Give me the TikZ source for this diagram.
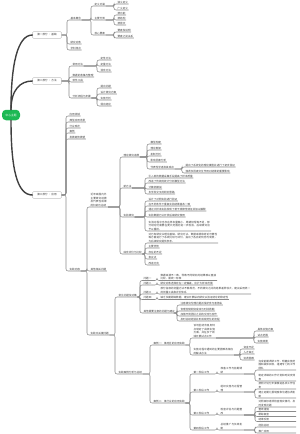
\documentclass[tikz,border=0pt]{standalone}
\usepackage{fontspec}
\newfontfamily\cjk{Noto Sans CJK SC}
\XeTeXlinebreaklocale "zh"
\XeTeXlinebreakskip=0pt plus 1pt
\definecolor{rootgreen}{HTML}{1DB954}
\definecolor{linegray}{HTML}{8C8C8C}
\definecolor{txtgray}{HTML}{3A3A3A}

\begin{document}
\begin{tikzpicture}[
  x=2pt, y=-2pt,
  rootnode/.style={fill=rootgreen, text=white, rounded corners=8pt, minimum width=36pt, minimum height=21pt,
                   font=\cjk\fontsize{5.5}{7}\selectfont, inner sep=1pt},
  topicnode/.style={draw=linegray, fill=white, rounded corners=2pt, minimum width=58pt, minimum height=13pt,
                    font=\cjk\fontsize{5.2}{6.8}\selectfont, text=txtgray, inner sep=1pt},
  leafnode/.style={anchor=south west, inner xsep=1pt, inner ysep=1pt, align=left,
                   font=\cjk\fontsize{5.2}{6.8}\selectfont, text=txtgray},
  trunk/.style={draw=black!75, line width=2.8pt, line cap=round},
  cn/.style={draw=linegray, line width=1.1pt, rounded corners=4pt,
             to path={-| ([xshift=-6pt]\tikztotarget.south west) -- (\tikztotarget.south east)}},
]
\useasboundingbox (0,0) rectangle (300,434);

% Root and main topics
\node[rootnode] (root) at (11,115) {中心主题};
\node[topicnode] (A) at (47,35) {第一部分 · 基础};
\node[topicnode] (B) at (47,81) {第二部分 · 方法};
\node[topicnode] (C) at (47,195) {第三部分 · 应用};

% Part A
\node[leafnode] (A1) at (70,20) {基本概念};
\node[leafnode] (A2) at (70,44) {研究对象};
\node[leafnode] (A3) at (70,50) {学科特点};
\node[leafnode] (A1a) at (94,6) {定义内涵};
\node[leafnode] (A1b) at (94,20) {主要分类};
\node[leafnode] (A1c) at (94,35) {核心要素};
\node[leafnode] (A1a1) at (117,4) {狭义定义};
\node[leafnode] (A1a2) at (117,10) {广义定义};
\node[leafnode] (A1b1) at (117,15) {按功能};
\node[leafnode] (A1b2) at (117,20) {按结构};
\node[leafnode] (A1b3) at (117,25) {按层次};
\node[leafnode] (A1c1) at (117,32) {要素及说明};
\node[leafnode] (A1c2) at (117,38) {要素之间关系};

% Part B
\node[leafnode] (B1) at (72,66) {常用方法};
\node[leafnode] (B2) at (72,77) {数据的收集与整理};
\node[leafnode] (B3) at (72,82) {软件工具};
\node[leafnode] (B4) at (72,98) {分析流程与步骤};
\node[leafnode] (B1a) at (100,60) {定性方法};
\node[leafnode] (B1b) at (100,66) {定量方法};
\node[leafnode] (B1c) at (100,72) {混合方法};
\node[leafnode] (B4a) at (100,88) {提出问题};
\node[leafnode] (B4b) at (100,94) {设计研究方案};
\node[leafnode] (B4c) at (100,100) {实施分析};
\node[leafnode] (B4d) at (100,106) {得出结论};

% Part C, upper list
\node[leafnode] (C1) at (69,116) {应用领域};
\node[leafnode] (C2) at (69,122) {典型应用场景};
\node[leafnode] (C3) at (69,128) {行业现状};
\node[leafnode] (C4) at (69,133) {案例};
\node[leafnode] (C5) at (69,139) {发展趋势展望};
\node[leafnode] (C6) at (69,271) {实践内容};

% Part C, practice
\node[leafnode, text width=34pt] (H) at (90,207) {近年来国内外主要研究进展及代表性成果的归纳与总结};
\node[leafnode] (I) at (90,271) {其他相关问题};
\node[leafnode] (F) at (90,335) {实践中关键问题};

\node[leafnode] (D1) at (123,157) {理论研究进展};
\node[leafnode] (D2) at (123,188) {新方法};
\node[leafnode] (D3) at (123,217) {实验研究};
\node[leafnode] (D4) at (123,254) {综合评价与比较};

\node[leafnode] (D1a) at (150,144) {模型构建};
\node[leafnode] (D1b) at (150,150) {理论框架};
\node[leafnode] (D1c) at (150,156) {机制分析};
\node[leafnode] (D1d) at (150,162) {影响因素分析};
\node[leafnode] (D1e) at (150,169) {代表性学者及其观点};
\node[leafnode] (D1e1) at (185,167) {提出了系统化的理论模型并进行了初步验证};
\node[leafnode] (D1e2) at (185,173) {强调多因素交互作用对结果的重要影响};

\node[leafnode] (D2a) at (148,178) {引入新的数据采集手段提高了样本质量};
\node[leafnode] (D2b) at (148,183) {改进了传统的统计分析模型方法};
\node[leafnode] (D2c) at (148,189) {计算机模拟};
\node[leafnode] (D2d) at (148,194) {多学科交叉的研究思路};

\node[leafnode] (D3a) at (148,201) {设计了对照实验进行验证};
\node[leafnode] (D3b) at (148,206) {在不同条件下重复实验结果基本一致};
\node[leafnode] (D3c) at (148,211) {通过大样本实验发现了若干规律性特征并加以解释};
\node[leafnode] (D3d) at (148,217) {实验数据已公开供后续研究使用};
\node[leafnode, text width=124pt] (D3e) at (148,231) {实验过程中也存在样本量偏小、周期较短等不足，部分结论仍需要在更大范围内进一步检验，后续研究应予以重视。};

\node[leafnode, text width=138pt] (D4a) at (148,243) {对已有研究从理论基础、研究方法、数据来源和结论可靠性等方面进行了系统比较与评价，指出了各自的优势与局限，为后续研究提供参考。};
\node[leafnode] (D4b) at (148,248) {主要优势};
\node[leafnode] (D4c) at (148,254) {存在的不足};
\node[leafnode] (D4d) at (148,259) {争议点};
\node[leafnode] (D4e) at (148,265) {改进方向};

% Problems
\node[leafnode] (E) at (118,297) {常见问题及对策};
\node[leafnode] (E1) at (143,280.5) {问题一};
\node[leafnode] (E2) at (143,285) {问题二};
\node[leafnode] (E3) at (143,294) {问题三};
\node[leafnode] (E4) at (143,299.5) {问题四};
\node[leafnode] (E5) at (143,313) {其他需要注意的问题与建议};
\node[leafnode, text width=112pt] (E1a) at (160,280.5) {数据来源不一致，导致不同研究的结果难以直接比较，需统一标准};
\node[leafnode] (E2a) at (160,285) {研究对象选择存在一定偏差，应扩大样本范围};
\node[leafnode, text width=180pt] (E3a) at (160,294) {部分指标的测量方法不够规范，不同研究之间的结果差异较大，建议采用统一的测量工具和评价体系};
\node[leafnode] (E4a) at (160,299.5) {缺乏长期跟踪数据，建议开展纵向研究以验证结论的稳定性};
\node[leafnode] (E5a) at (180,305) {注意研究伦理问题并保护参与者隐私};
\node[leafnode] (E5b) at (180,311) {合理控制研究成本与时间周期};
\node[leafnode] (E5c) at (180,316) {加强不同团队之间的交流与合作};
\node[leafnode] (E5d) at (180,321) {及时总结经验并形成规范化的流程};

% Cases
\node[leafnode] (G) at (118,374) {实践案例分析与总结};
\node[leafnode] (G1) at (153,345) {案例一：某地区的应用实践};
\node[leafnode] (G2) at (153,403) {案例二：某行业的应用实践};
\node[leafnode, text width=44pt] (G1a) at (193,338) {该地区结合自身特点制定了具体实施方案，并在多个领域开展试点工作};
\node[leafnode, text width=80pt] (G1b) at (193,355) {实施过程中遇到的主要困难及相应的解决办法};
\node[leafnode] (G1a1) at (257,331) {具体实施方案};
\node[leafnode] (G1a2) at (257,337) {试点范围};
\node[leafnode] (G1a3) at (257,343) {实施效果};
\node[leafnode] (G1b1) at (243,349) {资金不足};
\node[leafnode] (G1b2) at (243,354) {人才缺乏};
\node[leafnode] (G1b3) at (243,360) {协调困难};

\node[leafnode] (G2a) at (193,374) {第一阶段工作};
\node[leafnode] (G2b) at (193,392) {第二阶段工作};
\node[leafnode] (G2c) at (193,415) {第三阶段工作};
\node[leafnode] (G2d) at (193,430) {第四阶段工作};
\node[leafnode, text width=46pt] (G2a0) at (220,374) {准备工作与前期调研};
\node[leafnode, text width=46pt] (G2b0) at (220,392) {组织实施与过程管理};
\node[leafnode, text width=46pt] (G2c0) at (220,415) {检查评估与问题整改};
\node[leafnode, text width=46pt] (G2d0) at (220,430) {总结推广与长效机制};
\node[leafnode, text width=74pt] (G2a1) at (258,370) {完成前期调研工作，明确实施范围和具体目标，组建专门的工作团队};
\node[leafnode, text width=74pt] (G2a2) at (258,381) {制定详细的工作计划和时间安排表};
\node[leafnode, text width=74pt] (G2b1) at (258,389) {按照计划分步骤推进各项工作任务};
\node[leafnode, text width=74pt] (G2b2) at (258,398) {建立定期汇报制度和沟通协调机制};
\node[leafnode, text width=74pt] (G2c1) at (258,407) {对照目标逐项检查落实情况，及时发现问题};
\node[leafnode, text width=74pt] (G2c2) at (258,411.5) {整改措施};
\node[leafnode, text width=74pt] (G2c3) at (258,416.5) {跟踪复查};
\node[leafnode, text width=74pt] (G2c4) at (258,421.5) {结果反馈};
\node[leafnode, text width=74pt] (G2d1) at (258,427) {经验总结};
\node[leafnode, text width=74pt] (G2d2) at (258,433) {推广应用};

% --- connectors ---
\draw[trunk] (root.north) .. controls +(0,-45) and +(-15,0) .. (A.west);
\draw[trunk] (root.north) .. controls +(0,-20) and +(-12,0) .. (B.west);
\draw[trunk] (root.south) .. controls +(0,50) and +(-15,0) .. (C.west);

\draw[cn] (A.east) to (A1);
\draw[cn] (A.east) to (A2);
\draw[cn] (A.east) to (A3);
\draw[cn] (A1.south east) to (A1a);
\draw[cn] (A1.south east) to (A1b);
\draw[cn] (A1.south east) to (A1c);
\draw[cn] (A1a.south east) to (A1a1);
\draw[cn] (A1a.south east) to (A1a2);
\draw[cn] (A1b.south east) to (A1b1);
\draw[cn] (A1b.south east) to (A1b2);
\draw[cn] (A1b.south east) to (A1b3);
\draw[cn] (A1c.south east) to (A1c1);
\draw[cn] (A1c.south east) to (A1c2);

\draw[cn] (B.east) to (B1);
\draw[cn] (B.east) to (B2);
\draw[cn] (B.east) to (B3);
\draw[cn] (B.east) to (B4);
\draw[cn] (B1.south east) to (B1a);
\draw[cn] (B1.south east) to (B1b);
\draw[cn] (B1.south east) to (B1c);
\draw[cn] (B4.south east) to (B4a);
\draw[cn] (B4.south east) to (B4b);
\draw[cn] (B4.south east) to (B4c);
\draw[cn] (B4.south east) to (B4d);

\draw[cn] (C.east) to (C1);
\draw[cn] (C.east) to (C2);
\draw[cn] (C.east) to (C3);
\draw[cn] (C.east) to (C4);
\draw[cn] (C.east) to (C5);
\draw[cn] (C.east) to (C6);
\draw[cn] (C6.south east) to (H);
\draw[cn] (C6.south east) to (I);
\draw[cn] (C6.south east) to (F);

\draw[cn] (H.south east) to (D1);
\draw[cn] (H.south east) to (D2);
\draw[cn] (H.south east) to (D3);
\draw[cn] (H.south east) to (D4);
\draw[cn] (D1.south east) to (D1a);
\draw[cn] (D1.south east) to (D1b);
\draw[cn] (D1.south east) to (D1c);
\draw[cn] (D1.south east) to (D1d);
\draw[cn] (D1.south east) to (D1e);
\draw[cn] (D1e.south east) to (D1e1);
\draw[cn] (D1e.south east) to (D1e2);
\draw[cn] (D2.south east) to (D2a);
\draw[cn] (D2.south east) to (D2b);
\draw[cn] (D2.south east) to (D2c);
\draw[cn] (D2.south east) to (D2d);
\draw[cn] (D3.south east) to (D3a);
\draw[cn] (D3.south east) to (D3b);
\draw[cn] (D3.south east) to (D3c);
\draw[cn] (D3.south east) to (D3d);
\draw[cn] (D3.south east) to (D3e);
\draw[cn] (D4.south east) to (D4a);
\draw[cn] (D4.south east) to (D4b);
\draw[cn] (D4.south east) to (D4c);
\draw[cn] (D4.south east) to (D4d);
\draw[cn] (D4.south east) to (D4e);

\draw[cn] (F.south east) to (E);
\draw[cn] (F.south east) to (G);
\draw[cn] (E.south east) to (E1);
\draw[cn] (E.south east) to (E2);
\draw[cn] (E.south east) to (E3);
\draw[cn] (E.south east) to (E4);
\draw[cn] (E.south east) to (E5);
\draw[cn] (E1.south east) to (E1a);
\draw[cn] (E2.south east) to (E2a);
\draw[cn] (E3.south east) to (E3a);
\draw[cn] (E4.south east) to (E4a);
\draw[cn] (E5.south east) to (E5a);
\draw[cn] (E5.south east) to (E5b);
\draw[cn] (E5.south east) to (E5c);
\draw[cn] (E5.south east) to (E5d);

\draw[cn] (G.south east) to (G1);
\draw[cn] (G.south east) to (G2);
\draw[cn] (G1.south east) to (G1a);
\draw[cn] (G1.south east) to (G1b);
\draw[cn] (G1a.south east) to (G1a1);
\draw[cn] (G1a.south east) to (G1a2);
\draw[cn] (G1a.south east) to (G1a3);
\draw[cn] (G1b.south east) to (G1b1);
\draw[cn] (G1b.south east) to (G1b2);
\draw[cn] (G1b.south east) to (G1b3);
\draw[cn] (G2.south east) to (G2a);
\draw[cn] (G2.south east) to (G2b);
\draw[cn] (G2.south east) to (G2c);
\draw[cn] (G2.south east) to (G2d);
\draw[cn] (G2a.south east) to (G2a0);
\draw[cn] (G2b.south east) to (G2b0);
\draw[cn] (G2c.south east) to (G2c0);
\draw[cn] (G2d.south east) to (G2d0);
\draw[cn] (G2a0.south east) to (G2a1);
\draw[cn] (G2a0.south east) to (G2a2);
\draw[cn] (G2b0.south east) to (G2b1);
\draw[cn] (G2b0.south east) to (G2b2);
\draw[cn] (G2c0.south east) to (G2c1);
\draw[cn] (G2c0.south east) to (G2c2);
\draw[cn] (G2c0.south east) to (G2c3);
\draw[cn] (G2c0.south east) to (G2c4);
\draw[cn] (G2d0.south east) to (G2d1);
\draw[cn] (G2d0.south east) to (G2d2);

\end{tikzpicture}
\end{document}
